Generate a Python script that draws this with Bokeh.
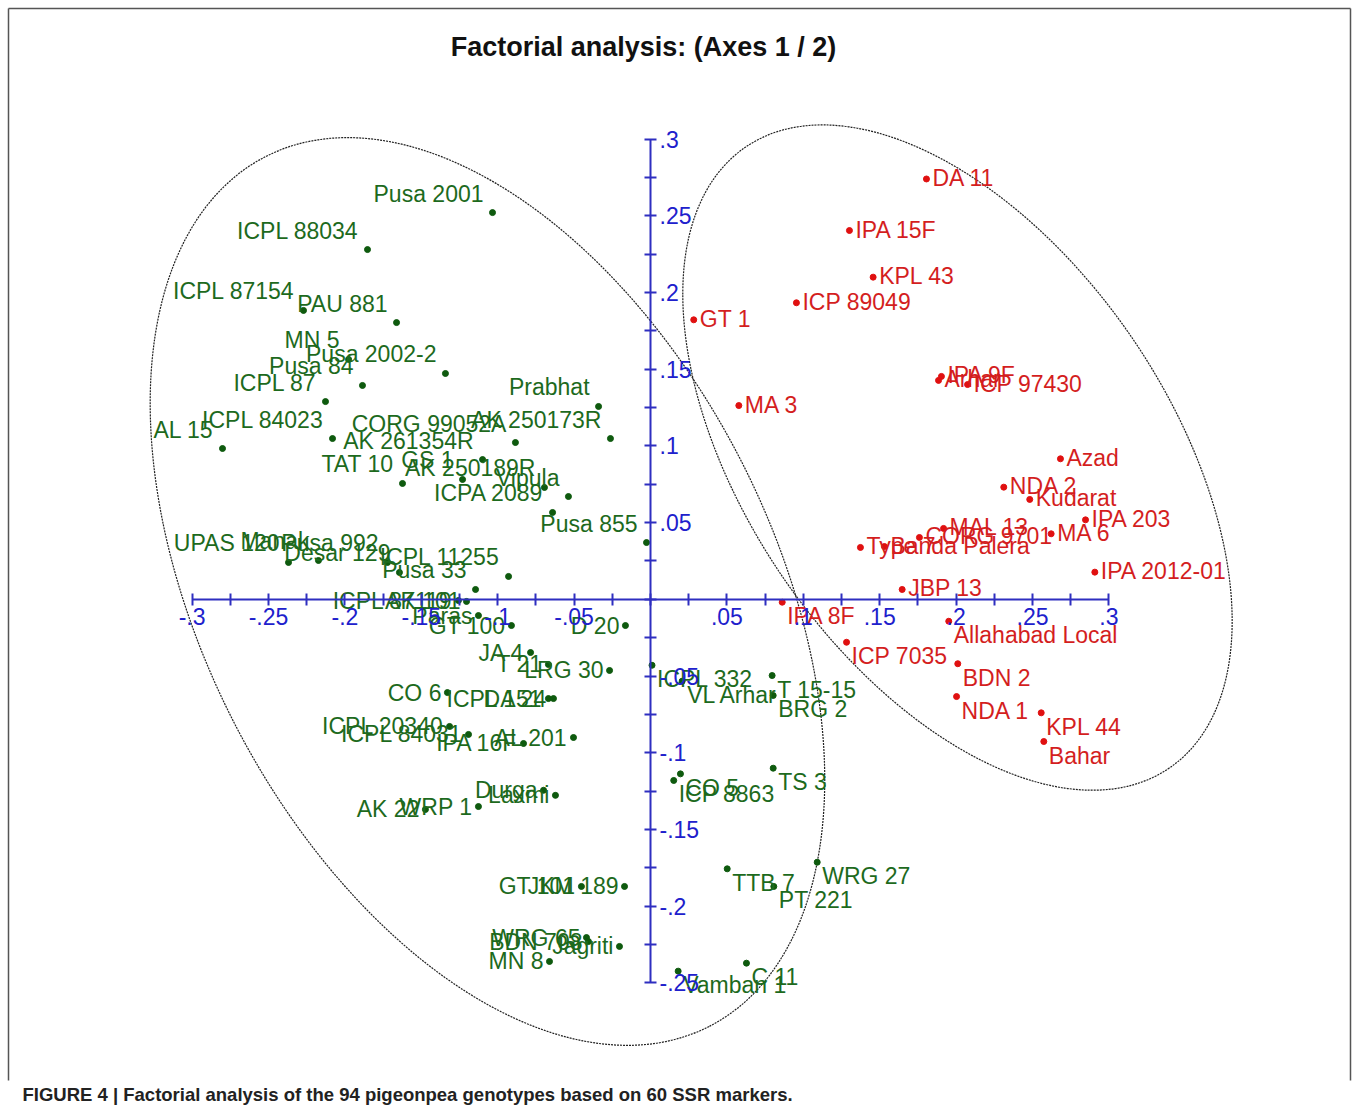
import numpy as np
from bokeh.plotting import figure
from bokeh.models import LinearAxis, FixedTicker, CustomJSTickFormatter, ColumnDataSource, Range1d
from bokeh.core.properties import value
from bokeh.embed import file_html
from bokeh.resources import INLINE

TITLE = "Factorial analysis: (Axes 1 / 2)"
CAPTION = "FIGURE 4 | Factorial analysis of the 94 pigeonpea genotypes based on 60 SSR markers."

# ---- data (factor scores) ----
red_names = ["DA 11", "IPA 15F", "KPL 43", "ICP 89049", "GT 1", "MA 3", "IPA 9F", "Arhar",
             "ICP 97430", "Azad", "NDA 2", "Kudarat", "IPA 203", "MA 6", "CORG 9701", "MAL 13",
             "Type 7", "Banda Palera", "IPA 2012-01", "JBP 13", "IPA 8F", "Allahabad Local",
             "ICP 7035", "BDN 2", "NDA 1", "KPL 44", "Bahar"]
red_x = [0.1806, 0.1302, 0.1457, 0.0955, 0.0283, 0.0578, 0.1904, 0.1885,
         0.2075, 0.2683, 0.2312, 0.2482, 0.2847, 0.2622, 0.1760, 0.1918,
         0.1374, 0.1531, 0.2908, 0.1647, 0.0862, 0.1952,
         0.1283, 0.2011, 0.2003, 0.2557, 0.2574]
red_y = [0.2740, 0.2404, 0.2100, 0.1933, 0.1822, 0.1263, 0.1453, 0.1427,
         0.1400, 0.0916, 0.0731, 0.0651, 0.0518, 0.0427, 0.0403, 0.0462,
         0.0338, 0.0344, 0.0177, 0.0064, -0.0019, -0.0143,
         -0.0280, -0.0420, -0.0634, -0.0740, -0.0927]

green_names = ["Pusa 2001", "ICPL 88034", "ICPL 87154", "PAU 881", "MN 5", "Pusa 2002-2",
               "Pusa 84", "ICPL 87", "ICPL 84023", "AL 15", "CORG 99052A", "AK 261354R",
               "TAT 10", "GS 1", "AK 250189R", "ICPA 2089", "Vipula", "Prabhat",
               "AK 250173R", "Pusa 855", "UPAS 120", "Manak", "Pusa 992", "Desar 129",
               "ICPL 11255", "Pusa 33", "ICPL 87119", "AK 101", "Paras", "GT 100",
               "D 20", "JA 4", "T 21", "LRG 30", "CO 6", "ICPL 151", "DA 24",
               "ICPL 20340", "ICPL 84031", "IPA 16F", "AL 201", "Durga", "Laxmi",
               "WRP 1", "AK 22", "GT 101", "JKM 189", "WRG 65", "BDN 708", "Jagriti",
               "MN 8", "ICPL 332", "VL Arhar", "T 15-15", "BRG 2", "CO 5", "ICP 8863",
               "TS 3", "TTB 7", "PT 221", "WRG 27", "C 11", "Vamban 1"]
green_x = [-0.1034, -0.1852, -0.2271, -0.1662, -0.1976, -0.1342,
           -0.1885, -0.2127, -0.2081, -0.2801, -0.0884, -0.1099,
           -0.1623, -0.1230, -0.0694, -0.0641, -0.0537, -0.0340,
           -0.0262, -0.0026, -0.2369, -0.2173, -0.1721, -0.1643,
           -0.0929, -0.1145, -0.1257, -0.1204, -0.1126, -0.0910,
           -0.0164, -0.0785, -0.0668, -0.0268, -0.1329, -0.0668, -0.0635,
           -0.1315, -0.1191, -0.0831, -0.0504, -0.0700, -0.0622,
           -0.1126, -0.1473, -0.0452, -0.0170, -0.0419, -0.0406, -0.0203,
           -0.0661, 0.0010, 0.0207, 0.0796, 0.0803, 0.0196, 0.0152,
           0.0803, 0.0502, 0.0807, 0.1091, 0.0628, 0.0181]
green_y = [0.2521, 0.2280, 0.1883, 0.1804, 0.1564, 0.1472,
           0.1394, 0.1289, 0.1048, 0.0983, 0.1022, 0.0911,
           0.0755, 0.0781, 0.0729, 0.0566, 0.0670, 0.1257,
           0.1048, 0.0370, 0.0240, 0.0253, 0.0240, 0.0175,
           0.0149, 0.0064, -0.0008, -0.0014, -0.0106, -0.0171,
           -0.0171, -0.0347, -0.0425, -0.0464, -0.0608, -0.0647, -0.0647,
           -0.0829, -0.0881, -0.0940, -0.0901, -0.1245, -0.1278,
           -0.1351, -0.1370, -0.1872, -0.1872, -0.2205, -0.2231, -0.2263,
           -0.2361, -0.0430, -0.0534, -0.0497, -0.0627, -0.1138, -0.1181,
           -0.1101, -0.1757, -0.1872, -0.1714, -0.2372, -0.2424]

x_ticks = [-0.3, -0.25, -0.2, -0.15, -0.1, -0.05, 0.0, 0.05, 0.1, 0.15, 0.2, 0.25, 0.3]
x_minor = [-0.275, -0.225, -0.175, -0.125, -0.075, -0.025, 0.025, 0.075, 0.125, 0.175, 0.225, 0.275]
y_ticks = [-0.25, -0.2, -0.15, -0.1, -0.05, 0.0, 0.05, 0.1, 0.15, 0.2, 0.25, 0.3]
y_minor = [-0.225, -0.175, -0.125, -0.075, -0.025, 0.025, 0.075, 0.125, 0.175, 0.225, 0.275]

# group ellipses (centre x, centre y, width, height, angle deg)
ell_left = (-0.1067, 0.0051, 0.639, 0.372, -63.0)
ell_right = (0.2009, 0.0924, 0.492, 0.276, -55.7)

# ---- layout ----
W, H = 1358, 1112
PXX, PXY = 1528.0, 1534.0          # pixels per unit
OX, OY = 650.0, 598.8              # origin position inside the canvas (from top-left)
BLUE_LINE = "#2e2ec0"
BLUE_TEXT = "#2020cc"
GREEN_TXT = "#1d6a1d"
GREEN_DOT = "#0e5a0e"
RED_TXT = "#d41e1e"
RED_DOT = "#e01010"
FONT = "Liberation Sans"


def cx(px):
    return (px - OX) / PXX


def cy(py):
    return (OY - py) / PXY


p = figure(width=W, height=H,
           x_range=Range1d(cx(0), cx(W)), y_range=Range1d(cy(H), cy(0)),
           x_axis_type=None, y_axis_type=None, toolbar_location=None,
           output_backend="svg", min_border=0, outline_line_color=None,
           background_fill_color="white", border_fill_color="white")

# frame lines of the figure panel (top, left, right)
p.multi_line(xs=[[cx(8), cx(1350)], [cx(8), cx(8)], [cx(1350), cx(1350)]],
             ys=[[cy(8), cy(8)], [cy(8), cy(1080)], [cy(8), cy(1080)]],
             line_color="#555555", line_width=1.5)

# ellipses
for (ex, ey, ew, eh, ea) in (ell_left, ell_right):
    p.ellipse(x=[ex], y=[ey], width=[ew], height=[eh], angle=[ea], angle_units="deg",
              fill_color=None, line_color="#222222", line_width=1.2, line_dash="2 1")

fmt = CustomJSTickFormatter(code="""
if (Math.abs(tick) < 1e-9) { return ""; }
var s = (Math.round(tick * 100) / 100).toString();
return s.replace("0.", ".");
""")

common = dict(axis_line_color=BLUE_LINE, axis_line_width=2,
              major_tick_line_color=BLUE_LINE, minor_tick_line_color=BLUE_LINE,
              major_tick_line_width=2, minor_tick_line_width=2,
              major_tick_in=6, major_tick_out=6, minor_tick_in=6, minor_tick_out=6,
              major_label_text_color=BLUE_TEXT, major_label_text_font=FONT,
              major_label_text_font_size="23px", major_label_standoff=3,
              formatter=fmt)

xa = LinearAxis(fixed_location=0, bounds=(x_ticks[0], x_ticks[-1]),
                ticker=FixedTicker(ticks=x_ticks, minor_ticks=x_minor), **common)
p.add_layout(xa, "below")
ya = LinearAxis(fixed_location=0, bounds=(y_ticks[0], y_ticks[-1]),
                ticker=FixedTicker(ticks=y_ticks, minor_ticks=y_minor), **common)
p.add_layout(ya, "right")


def draw_group(names, xs, ys, tcol, dcol):
    xs = np.asarray(xs)
    ys = np.asarray(ys)
    names = np.asarray(names)
    p.scatter(xs, ys, size=6, marker="circle", fill_color=dcol, line_color=dcol)
    # label placement by quadrant
    rules = [
        ((xs < 0) & (ys >= 0), "right", -9, -19),
        ((xs < 0) & (ys < 0), "right", -6, 0),
        ((xs >= 0) & (ys >= 0), "left", 6, -1),
        ((xs >= 0) & (ys < 0), "left", 5, 14),
    ]
    for mask, align, xo, yo in rules:
        if not mask.any():
            continue
        src = ColumnDataSource(dict(x=xs[mask], y=ys[mask], t=list(names[mask])))
        p.text(x="x", y="y", text="t", source=src, text_align=align, text_baseline="middle",
               x_offset=xo, y_offset=yo, text_font=value(FONT), text_font_size="23px",
               text_color=tcol)


draw_group(green_names, green_x, green_y, GREEN_TXT, GREEN_DOT)
draw_group(red_names, red_x, red_y, RED_TXT, RED_DOT)

# title and caption
p.text(x=[cx(643)], y=[cy(46)], text=[TITLE], text_align="center", text_baseline="middle",
       text_font=value(FONT), text_font_style="bold", text_font_size="27px", text_color="#111111")
p.text(x=[cx(22)], y=[cy(1094)], text=[CAPTION], text_align="left", text_baseline="middle",
       text_font=value(FONT), text_font_style="bold", text_font_size="18.5px", text_color="#222222")

open("out.html", "w").write(file_html(p, INLINE))
